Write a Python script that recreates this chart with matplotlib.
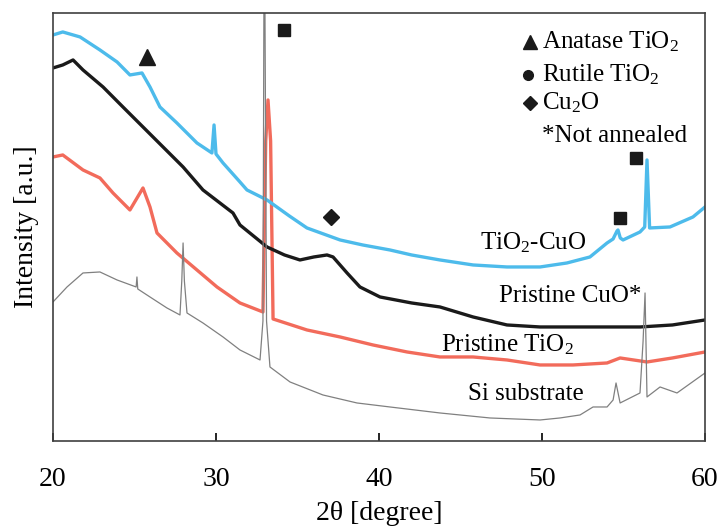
import matplotlib.pyplot as plt

plt.rcParams['font.family'] = ['Liberation Serif', 'DejaVu Serif']
plt.rcParams['mathtext.fontset'] = 'custom'
plt.rcParams['mathtext.rm'] = 'Liberation Serif'
plt.rcParams['mathtext.it'] = 'Liberation Serif:italic'

# XRD patterns (2theta in degree, intensity in a.u.)
tio2_cuo_x = [20.0, 20.6, 21.66, 22.88, 23.93, 24.72, 25.46, 25.95, 26.56, 27.6, 28.83, 29.75,
              29.88, 30.0, 30.43, 31.47, 31.9, 33.13, 34.5, 35.58, 37.61, 39.0, 40.67, 42.0,
              43.74, 45.77, 47.85, 49.88, 51.53, 52.94, 53.99, 54.36, 54.6, 54.66, 54.8, 54.97,
              56.01, 56.3, 56.44, 56.6, 57.85, 59.26, 60.0]
tio2_cuo_y = [406, 409, 404, 391, 379, 366, 368, 354, 334, 318, 298, 288,
              316, 287, 278, 259, 251, 241, 225, 213, 201, 196, 191, 186,
              181, 176, 174, 174, 178, 184, 198, 202, 210, 211, 203, 201,
              209, 214, 281, 213, 214, 224, 234]

cuo_x = [20.0, 20.6, 21.23, 21.84, 23.07, 24.29, 25.52, 26.75, 27.98, 29.2, 31.04, 31.47,
         33.13, 34.2, 35.15, 36.0, 36.81, 37.18, 38.04, 38.83, 40.06, 42.0, 43.74, 45.77,
         47.85, 49.88, 53.0, 56.01, 58.0, 60.0]
cuo_y = [373, 376, 381, 371, 354, 334, 314, 294, 274, 251, 228, 216,
         194, 186, 181, 184, 186, 184, 168, 154, 144, 138, 134, 124,
         116, 114, 114, 114, 116, 121]

tio2_x = [20.0, 20.6, 21.84, 22.88, 23.68, 24.72, 25.52, 25.95, 26.38, 27.6, 28.83, 30.06,
          31.47, 32.88, 33.05, 33.19, 33.35, 33.5, 35.58, 37.61, 39.63, 41.72, 43.74, 45.77,
          47.85, 49.88, 51.9, 53.99, 54.79, 56.44, 58.0, 60.0]
tio2_y = [284, 286, 271, 263, 248, 231, 253, 234, 208, 188, 171, 154,
          138, 129, 300, 341, 300, 122, 111, 104, 96, 89, 84, 84,
          81, 76, 76, 78, 83, 79, 83, 89]

si_x = [20.0, 20.86, 21.84, 22.88, 23.93, 25.1, 25.15, 25.2, 25.95, 26.99, 27.79, 27.9,
        27.98, 28.06, 28.22, 29.2, 30.43, 31.47, 32.7, 32.88, 32.94, 33.0, 33.1, 33.31,
        34.54, 36.56, 38.65, 40.67, 43.74, 46.81, 49.88, 51.1, 52.33, 53.13, 53.99, 54.36,
        54.54, 54.79, 56.01, 56.2, 56.32, 56.44, 57.24, 58.28, 60.0]
si_y = [139, 154, 168, 169, 161, 154, 164, 152, 144, 133, 126, 160,
        198, 160, 128, 118, 104, 91, 81, 120, 440, 440, 120, 74,
        59, 46, 38, 34, 28, 23, 21, 23, 26, 34, 34, 41,
        58, 38, 48, 100, 148, 44, 54, 48, 68]

# phase markers (position of each symbol)
anatase_pos = (25.77, 384)
rutile_sq_pos = [(34.17, 411), (54.79, 223), (55.77, 283)]
cu2o_pos = (37.06, 224)

fig = plt.figure(figsize=(7.22, 5.29), dpi=100)
ax = fig.add_axes([0.0734, 0.1664, 0.9031, 0.8091])

ax.plot(tio2_x, tio2_y, color='#F26B5B', lw=2.4)
ax.plot(cuo_x, cuo_y, color='#1a1a1a', lw=2.4)
ax.plot(tio2_cuo_x, tio2_cuo_y, color='#4DBBEB', lw=2.4)
ax.plot(si_x, si_y, color='#808080', lw=0.9)

# symbols on peaks
ax.plot(*anatase_pos, marker='^', color='#1a1a1a', ms=11, ls='none')
for p in rutile_sq_pos:
    ax.plot(*p, marker='s', color='#1a1a1a', ms=9, ls='none')
ax.plot(*cu2o_pos, marker='D', color='#1a1a1a', ms=8, ls='none')

# key at top right
ax.plot(49.26, 399, marker='^', color='#1a1a1a', ms=10, ls='none')
ax.plot(49.14, 366, marker='o', color='#1a1a1a', ms=7, ls='none')
ax.plot(49.26, 338, marker='D', color='#1a1a1a', ms=7, ls='none')
ax.text(50.0, 399, 'Anatase TiO$_2$', fontsize=18, va='center')
ax.text(50.0, 366, 'Rutile TiO$_2$', fontsize=18, va='center')
ax.text(50.0, 338, 'Cu$_2$O', fontsize=18, va='center')
ax.text(50.0, 305, '*Not annealed', fontsize=18, va='center')

# sample names
ax.text(49.45, 198, 'TiO$_2$-CuO', fontsize=18, ha='center', va='center')
ax.text(51.72, 145, 'Pristine CuO*', fontsize=18, ha='center', va='center')
ax.text(47.85, 96, 'Pristine TiO$_2$', fontsize=18, ha='center', va='center')
ax.text(49.02, 47, 'Si substrate', fontsize=18, ha='center', va='center')

ax.set_xlim(20, 60)
ax.set_ylim(0, 428)
ax.set_xticks([20, 30, 40, 50, 60])
ax.set_yticks([])
ax.tick_params(axis='x', direction='in', length=6, width=1.2, labelsize=20, pad=19)
for s in ax.spines.values():
    s.set_color('#404040')
    s.set_linewidth(1.2)

ax.set_xlabel('2θ [degree]', fontsize=20, labelpad=6)
ax.set_ylabel('Intensity [a.u.]', fontsize=20, labelpad=10)

fig.savefig('out.png', dpi=100)
